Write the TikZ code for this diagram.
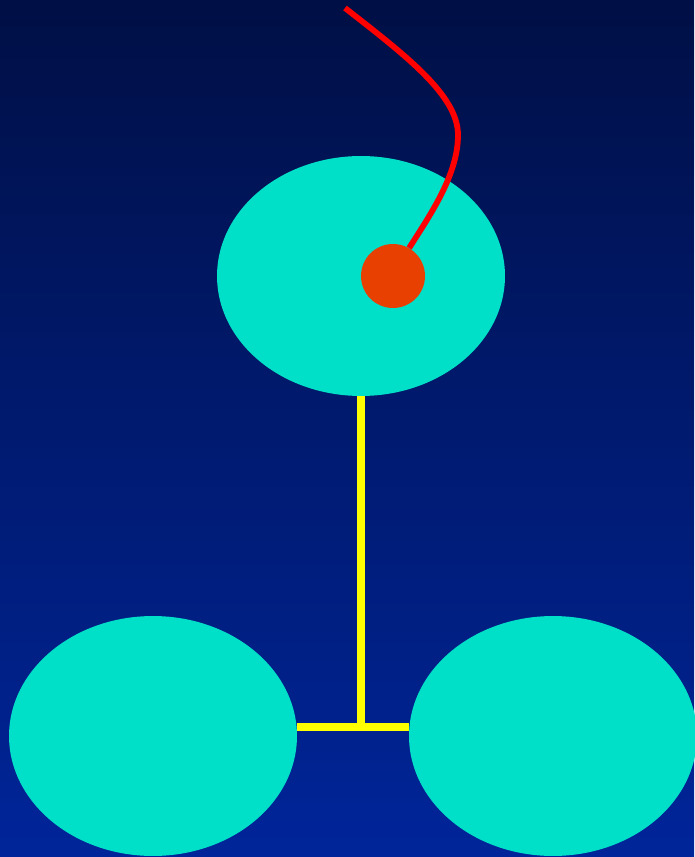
\documentclass[tikz,border=0pt]{standalone}
\usepackage{tikz}
\usetikzlibrary{shapes.geometric}
\definecolor{skytop}{HTML}{000F45}
\definecolor{skybot}{HTML}{00259A}
\definecolor{cellcyan}{HTML}{00DFC8}
\definecolor{dotred}{HTML}{E84000}
\definecolor{tailred}{HTML}{FF0000}
\definecolor{linkyel}{HTML}{FFFF00}
\tikzset{
  cell/.style={ellipse, fill=cellcyan, minimum width=5.76cm, minimum height=4.8cm, inner sep=0pt},
  nucleus/.style={circle, fill=dotred, minimum size=1.28cm, inner sep=0pt},
  link/.style={draw=linkyel, line width=4.4pt},
  tail/.style={draw=tailred, line width=3.3pt},
}
\begin{document}
\begin{tikzpicture}[x=0.02cm, y=-0.02cm]
  % background
  \shade[top color=skytop, bottom color=skybot] (0,0) rectangle (694,857);
  \useasboundingbox (0,0) rectangle (694,857);
  % cells
  \node[cell] (top) at (361,276) {};
  \node[cell] (left) at (153,736) {};
  \node[cell] (right) at (553,736) {};
  \node[nucleus] (dot) at (393,276) {};
  % links
  \coordinate (junction) at (361,727);
  \draw[link] (top.south) -- (junction);
  \draw[link] (junction -| left.east) -- (junction -| right.west);
  % tail
  \coordinate (tailend) at (345,8);
  \draw[tail] (tailend) .. controls (405,55) and (458,95) .. (458,135)
    .. controls (458,175) and (430,215) .. (dot.60);
\end{tikzpicture}
\end{document}
